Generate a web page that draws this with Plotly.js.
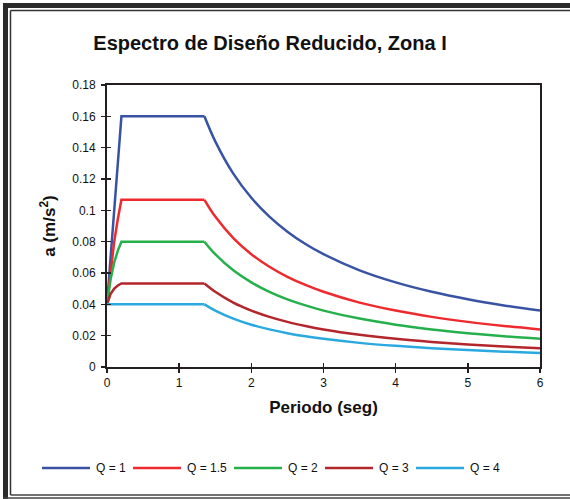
<!DOCTYPE html>
<html>
<head>
<meta charset="utf-8">
<script src="https://cdn.plot.ly/plotly-3.0.1.min.js"></script>
<style>html,body{margin:0;padding:0;background:#fff}#chart{width:570px;height:499px}</style>
</head>
<body>
<div id="chart"></div>
<script>
// Periods (s)
const periods = [0, 0.05, 0.1, 0.15, 0.2, 1.35, 1.5, 1.75, 2, 2.25, 2.5, 2.75, 3, 3.5, 4, 4.5, 5, 5.5, 6];
// Reduced spectral accelerations
const aQ1   = [0.04, 0.07, 0.10, 0.13, 0.16, 0.16, 0.144, 0.1234, 0.108, 0.096, 0.0864, 0.0785, 0.072, 0.0617, 0.054, 0.048, 0.0432, 0.0393, 0.036];
const aQ15  = [0.04, 0.0622, 0.08, 0.0945, 0.1067, 0.1067, 0.096, 0.0823, 0.072, 0.064, 0.0576, 0.0524, 0.048, 0.0411, 0.036, 0.032, 0.0288, 0.0262, 0.024];
const aQ2   = [0.04, 0.056, 0.0667, 0.0743, 0.08, 0.08, 0.072, 0.0617, 0.054, 0.048, 0.0432, 0.0393, 0.036, 0.0309, 0.027, 0.024, 0.0216, 0.0196, 0.018];
const aQ3   = [0.04, 0.0467, 0.05, 0.052, 0.0533, 0.0533, 0.048, 0.0411, 0.036, 0.032, 0.0288, 0.0262, 0.024, 0.0206, 0.018, 0.016, 0.0144, 0.0131, 0.012];
const aQ4   = [0.04, 0.04, 0.04, 0.04, 0.04, 0.04, 0.036, 0.0309, 0.027, 0.024, 0.0216, 0.0196, 0.018, 0.0154, 0.0135, 0.012, 0.0108, 0.0098, 0.009];
const seriesNames = ["Q = 1", "Q = 1.5", "Q = 2", "Q = 3", "Q = 4"];
const seriesColors = ["#3953a4", "#ee2a2e", "#25b04b", "#b3262c", "#2aa9e0"];
const xTickVals = [0, 1, 2, 3, 4, 5, 6];
const xTickText = ["0", "1", "2", "3", "4", "5", "6"];
const yTickVals = [0, 0.02, 0.04, 0.06, 0.08, 0.1, 0.12, 0.14, 0.16, 0.18];
const yTickText = ["0", "0.02", "0.04", "0.06", "0.08", "0.1", "0.12", "0.14", "0.16", "0.18"];

const seriesValues = [aQ1, aQ15, aQ2, aQ3, aQ4];
const SPLIT = 5; // index where the plateau ends and the descending branch starts
const traces = [];
seriesValues.forEach((vals, i) => {
  traces.push({x: periods.slice(0, SPLIT + 1), y: vals.slice(0, SPLIT + 1), type: 'scatter', mode: 'lines',
    name: seriesNames[i], showlegend: false, line: {color: seriesColors[i], width: 2.5, shape: 'linear'}});
  traces.push({x: periods.slice(SPLIT), y: vals.slice(SPLIT), type: 'scatter', mode: 'lines',
    name: seriesNames[i], showlegend: false, line: {color: seriesColors[i], width: 2.5, shape: 'spline', smoothing: 1}});
});
// helper trace so the overlay axes (inside half of the crossing ticks) are drawn
traces.push({x: [null], y: [null], xaxis: 'x2', yaxis: 'y2', showlegend: false, hoverinfo: 'skip', mode: 'lines'});

const axisCol = '#231f20';
const L = 107, R = 540, T = 85, B = 367, W = 570, H = 499;
const px = v => (v - L) / (R - L);
const py = v => (B - v) / (B - T);

// custom legend (line samples + labels)
const legSampleX = [42, 133, 234, 325, 416];
const legSampleLen = 48, legY = 468;
const legShapes = legSampleX.map((x0, i) => ({type: 'line', xref: 'paper', yref: 'paper',
  x0: px(x0), x1: px(x0 + legSampleLen), y0: py(legY), y1: py(legY), line: {color: seriesColors[i], width: 2.5}}));
const legAnn = legSampleX.map((x0, i) => ({xref: 'paper', yref: 'paper', x: px(x0 + legSampleLen + 4), y: py(legY),
  xanchor: 'left', yanchor: 'middle', text: seriesNames[i], showarrow: false, font: {size: 12, color: '#111'}}));

const layout = {
  width: W, height: H,
  margin: {l: L, r: W - R, t: T, b: H - B},
  paper_bgcolor: '#fff', plot_bgcolor: '#fff',
  font: {family: 'Liberation Sans, Arial, sans-serif', color: '#111', size: 12},
  title: {text: '<b>Espectro de Diseño Reducido, Zona I</b>', font: {size: 20, color: '#111'},
          xref: 'paper', x: px(270), xanchor: 'center', yref: 'paper', y: py(44), yanchor: 'middle'},
  xaxis: {range: [0, 6], tickvals: xTickVals, ticktext: xTickText, ticks: 'outside', ticklen: 4, tickwidth: 1.5,
          tickcolor: axisCol, showline: true, linecolor: axisCol, linewidth: 2, mirror: true, showgrid: false,
          zeroline: false, tickfont: {size: 12},
          title: {text: '<b>Periodo (seg)</b>', font: {size: 17}, standoff: 12}},
  yaxis: {range: [0, 0.18], tickvals: yTickVals, ticktext: yTickText, ticks: 'outside', ticklen: 4, tickwidth: 1.5,
          tickcolor: axisCol, showline: true, linecolor: axisCol, linewidth: 2, mirror: true, showgrid: false,
          zeroline: false, tickfont: {size: 12}, ticklabelstandoff: 3,
          title: {text: '<b>a (m/s<sup>2</sup>)</b>', font: {size: 17}, standoff: 12}},
  xaxis2: {overlaying: 'x', range: [0, 6], tickvals: xTickVals, ticktext: xTickText, ticks: 'inside', ticklen: 4, tickwidth: 1.5,
           tickcolor: axisCol, showticklabels: false, showgrid: false, zeroline: false, showline: false, side: 'bottom', anchor: 'y2'},
  yaxis2: {overlaying: 'y', range: [0, 0.18], tickvals: yTickVals, ticktext: yTickText, ticks: 'inside', ticklen: 4, tickwidth: 1.5,
           tickcolor: axisCol, showticklabels: false, showgrid: false, zeroline: false, showline: false, side: 'left', anchor: 'x2'},
  showlegend: false,
  annotations: legAnn,
  shapes: [
    {type: 'rect', xref: 'paper', yref: 'paper', x0: px(3), x1: px(8), y0: py(3), y1: py(499), fillcolor: '#2a2a2a', line: {width: 0}},
    {type: 'rect', xref: 'paper', yref: 'paper', x0: px(3), x1: px(570), y0: py(3), y1: py(8), fillcolor: '#2a2a2a', line: {width: 0}},
    {type: 'line', xref: 'paper', yref: 'paper', x0: px(10.5), x1: px(10.5), y0: py(10.5), y1: py(495), line: {color: '#333', width: 1.5}},
    {type: 'line', xref: 'paper', yref: 'paper', x0: px(10.5), x1: px(570), y0: py(10.5), y1: py(10.5), line: {color: '#333', width: 1.5}},
    {type: 'line', xref: 'paper', yref: 'paper', x0: px(10.5), x1: px(570), y0: py(495), y1: py(495), line: {color: '#444', width: 1.5}},
    {type: 'line', xref: 'paper', yref: 'paper', x0: px(3), x1: px(570), y0: py(498), y1: py(498), line: {color: '#444', width: 1.5}}
  ].concat(legShapes)
};
Plotly.newPlot('chart', traces, layout, {displayModeBar: false, staticPlot: true});
</script>
</body>
</html>
